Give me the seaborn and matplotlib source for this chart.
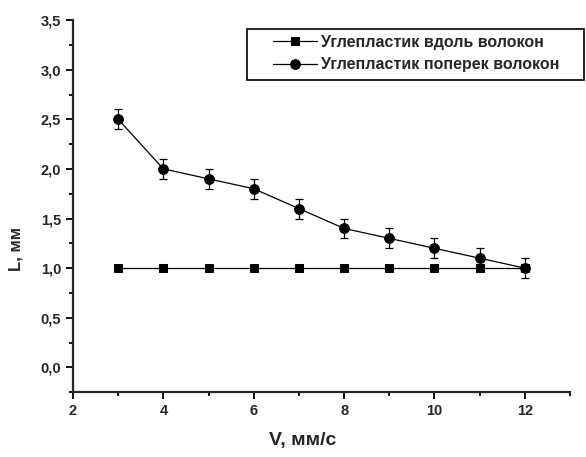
import pandas as pd
import numpy as np
import matplotlib.pyplot as plt
import seaborn as sns
from matplotlib.patches import Rectangle
from matplotlib.ticker import MultipleLocator, FuncFormatter

# Data
speed = [3, 4, 5, 6, 7, 8, 9, 10, 11, 12]
along = [1.0, 1.0, 1.0, 1.0, 1.0, 1.0, 1.0, 1.0, 1.0, 1.0]
across = [2.5, 2.0, 1.9, 1.8, 1.6, 1.4, 1.3, 1.2, 1.1, 1.0]
across_err = [0.1, 0.1, 0.1, 0.1, 0.1, 0.1, 0.1, 0.1, 0.1, 0.1]
label_along = 'Углепластик вдоль волокон'
label_across = 'Углепластик поперек волокон'

sns.set_style('ticks')
plt.rcParams['font.family'] = ['Liberation Sans', 'DejaVu Sans']

fig = plt.figure(figsize=(5.86, 4.57), dpi=100)
ax = fig.add_axes([0.1246, 0.142, 0.8481, 0.814])

df = pd.DataFrame({'V': speed, 'along': along, 'across': across})
sns.lineplot(data=df, x='V', y='along', ax=ax, color='black', lw=0.9,
             marker='s', markersize=5.5, markeredgecolor='black', label=label_along)
sns.lineplot(data=df, x='V', y='across', ax=ax, color='black', lw=0.9,
             marker='o', markersize=7, markeredgecolor='black', label=label_across)
ax.errorbar(speed, across, yerr=across_err, fmt='none', ecolor='black',
            elinewidth=0.9, capsize=3, capthick=0.9)

ax.set_xlim(2, 13)
ax.set_ylim(-0.25, 3.5)
ax.xaxis.set_major_locator(MultipleLocator(2))
ax.xaxis.set_minor_locator(MultipleLocator(1))
ax.yaxis.set_major_locator(MultipleLocator(0.5))
ax.yaxis.set_minor_locator(MultipleLocator(0.25))
ax.yaxis.set_major_formatter(FuncFormatter(lambda v, p: f'{v:.1f}'.replace('.', ',')))
ax.xaxis.set_major_formatter(FuncFormatter(lambda v, p: f'{v:.0f}' if v <= 12 else ''))

for s in ['top', 'right']:
    ax.spines[s].set_visible(False)
for s in ['left', 'bottom']:
    ax.spines[s].set_linewidth(1.6)
ax.tick_params(which='major', direction='out', length=5, width=1.3, labelsize=10.5, color='black')
ax.tick_params(which='minor', direction='out', length=3, width=1.3, color='black')
for t in ax.get_xticklabels() + ax.get_yticklabels():
    t.set_fontweight('bold')

ax.set_xlabel('V, мм/с', fontsize=14, fontweight='bold')
ax.set_ylabel('L, мм', fontsize=12, fontweight='bold')
ax.xaxis.set_label_coords((303 - 73) / 497, (392 - 440) / 372, transform=ax.transAxes)
ax.yaxis.set_label_coords((16 - 73) / 497, (392 - 249) / 372, transform=ax.transAxes)
ax.xaxis.label.set_va('center')
ax.yaxis.label.set_va('center')

leg = ax.legend(loc='upper left', bbox_to_anchor=(273 / 586, 1 - 35 / 457),
                bbox_transform=fig.transFigure, frameon=False,
                prop={'size': 11.5, 'weight': 'bold'}, borderpad=0, labelspacing=0.45,
                handlelength=2.75, handletextpad=0.25, borderaxespad=0)
fig.patches.append(Rectangle((247 / 586, 1 - 80 / 457), 337 / 586, 51 / 457,
                             transform=fig.transFigure, fill=False,
                             edgecolor='black', linewidth=1.2))

fig.savefig('out.png', dpi=100)
